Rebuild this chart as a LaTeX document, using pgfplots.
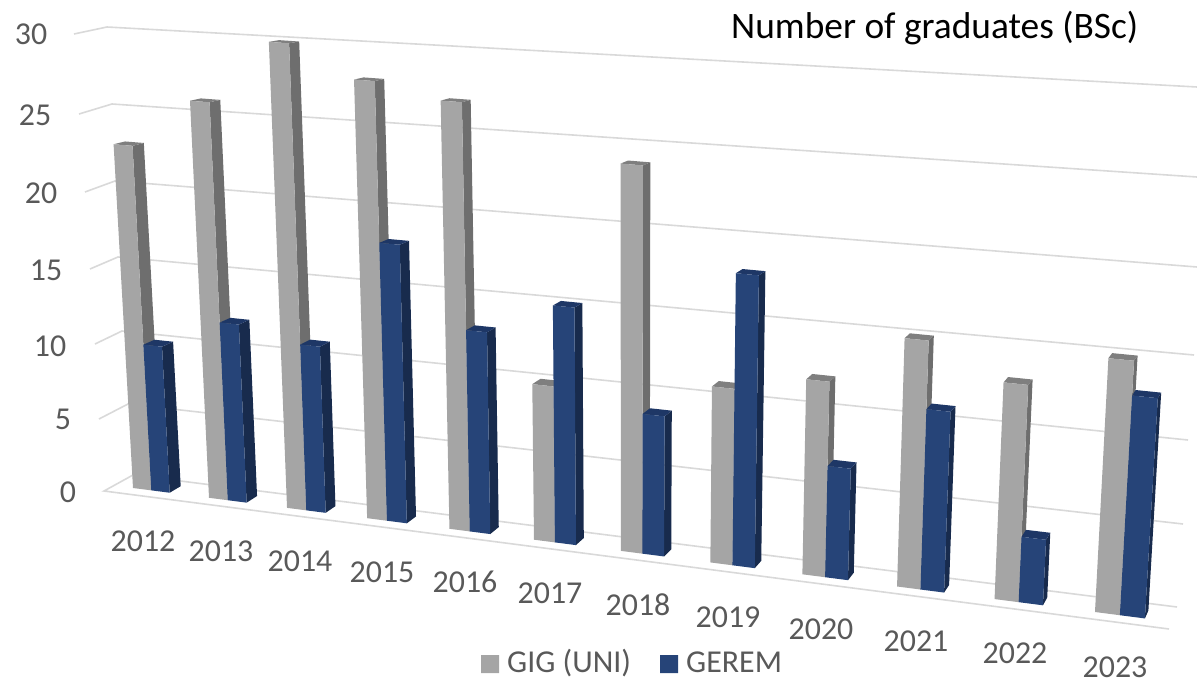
\documentclass[border=0pt]{standalone}
\usepackage{fontspec}
\setmainfont{Carlito}
\usepackage{pgfplots}
\usepackage{pgfplotstable}
\pgfplotsset{compat=1.18}
\definecolor{gf}{HTML}{A5A5A5}\definecolor{gs}{HTML}{6E6E6E}\definecolor{gt}{HTML}{7F7F7F}
\definecolor{bf}{HTML}{264478}\definecolor{bs}{HTML}{182B4D}\definecolor{bt}{HTML}{1E3766}
\definecolor{gridc}{HTML}{D9D9D9}\definecolor{txt}{HTML}{595959}
\pgfplotstableread{
year gig gerem
2012 21.8 8.85
2013 25.2 10.75
2014 29.7 9.9
2015 27.5 16.8
2016 26.5 11.85
2017 9 13.9
2018 23.25 7.95
2019 10 16.95
2020 11 6.15
2021 14 10
2022 12 3.5
2023 14 12
}\datatab
% perspective of the chart: (category position u, value h) -> picture position
\newcommand\proj[3]{%
  \pgfmathsetmacro\tXb{133+75.02*#1/(1-0.01293*#1)}%
  \pgfmathsetmacro\tYb{488+0.1289*(\tXb-133)}%
  \pgfmathsetmacro\tH{16.9*#2/(1-0.01036*#1+0.0033*#2)}%
  \pgfmathsetmacro\tX{\tXb+(\tXb-630)/88*\tH/100}%
  \pgfmathsetmacro\tY{\tYb-\tH}%
  \pgfmathsetmacro\tXk{\tX+12.3-0.0077*\tX}%
  \pgfmathsetmacro\tYk{\tY-1.3-0.0106*\tY}%
  \expandafter\let\csname X#3\endcsname\tX
  \expandafter\let\csname Y#3\endcsname\tY
  \expandafter\let\csname K#3\endcsname\tXk
  \expandafter\let\csname L#3\endcsname\tYk
}
\newcommand\onebar[6]{% u0 u1 h front side top
  \proj{#1}{0}{a}\proj{#2}{0}{b}\proj{#2}{#3}{c}\proj{#1}{#3}{d}%
  \edef\temp{\noexpand\addplot[fill=#5,draw=none] coordinates {(\Xb,\Yb)(\Kb,\Lb)(\Kc,\Lc)(\Xc,\Yc)(\Xb,\Yb)};}\temp
  \edef\temp{\noexpand\addplot[fill=#6,draw=none] coordinates {(\Xd,\Yd)(\Xc,\Yc)(\Kc,\Lc)(\Kd,\Ld)(\Xd,\Yd)};}\temp
  \edef\temp{\noexpand\addplot[fill=#4,draw=none] coordinates {(\Xa,\Ya)(\Xb,\Yb)(\Xc,\Yc)(\Xd,\Yd)(\Xa,\Ya)};}\temp
}
\begin{document}
\begin{tikzpicture}
\useasboundingbox (0,0) rectangle (1197bp,685bp);
\begin{axis}[at={(0,0)},anchor=south west,width=1197bp,height=685bp,scale only axis,
  axis lines=none,xmin=0,xmax=1197,ymin=0,ymax=685,y dir=reverse,clip=false,
  every axis plot/.append style={mark=none}]
\pgfplotsset{gl/.style={draw=gridc,line width=1.6bp,mark=none}}
\addplot[gl] coordinates {(74,34)(107,27)(1197,87)};
\addplot[gl] coordinates {(79,114)(112,104)(1197,177)};
\addplot[gl] coordinates {(85,192)(115,181)(1197,267)};
\addplot[gl] coordinates {(90,269)(118,257)(1194,355)};
\addplot[gl] coordinates {(95,344)(122,331)(1188,440)};
\addplot[gl] coordinates {(99,419)(128,404)(1183,524)};
\addplot[gl] coordinates {(1169,629)(104,491)(133,475)(1177,607)};
\pgfplotsforeachungrouped \i in {0,...,11}{%
  \pgfplotstablegetelem{\i}{gig}\of\datatab \let\vg\pgfplotsretval
  \pgfplotstablegetelem{\i}{gerem}\of\datatab \let\vb\pgfplotsretval
  \pgfmathsetmacro\ua{\i}\pgfmathsetmacro\ub{\i+0.243}\pgfmathsetmacro\uc{\i+0.486}%
  \onebar{\ua}{\ub}{\vg}{gf}{gs}{gt}%
  \onebar{\ub}{\uc}{\vb}{bf}{bs}{bt}%
}
\addplot[fill=gf,draw=none] coordinates {(481,655)(499,655)(499,673)(481,673)(481,655)};
\addplot[fill=bf,draw=none] coordinates {(660,655)(678,655)(678,673)(660,673)(660,655)};
\tikzset{tl/.style={font=\fontsize{32}{32}\selectfont,text=txt,anchor=center,inner sep=0pt}}
\node[tl] at (axis cs:31,34) {30};
\node[tl] at (axis cs:35,115) {25};
\node[tl] at (axis cs:41,193) {20};
\node[tl] at (axis cs:46,270) {15};
\node[tl] at (axis cs:50,346) {10};
\node[tl] at (axis cs:63,419) {5};
\node[tl] at (axis cs:68,492) {0};
\node[tl] at (axis cs:143,541) {2012};
\node[tl] at (axis cs:221,551) {2013};
\node[tl] at (axis cs:300,561) {2014};
\node[tl] at (axis cs:382,572) {2015};
\node[tl] at (axis cs:465,582) {2016};
\node[tl] at (axis cs:550,593) {2017};
\node[tl] at (axis cs:638,605) {2018};
\node[tl] at (axis cs:728,617) {2019};
\node[tl] at (axis cs:821,629) {2020};
\node[tl] at (axis cs:916,641) {2021};
\node[tl] at (axis cs:1015,653) {2022};
\node[tl] at (axis cs:1115,667) {2023};
\node[tl,anchor=base west] at (axis cs:507,672) {GIG (UNI)};
\node[tl,anchor=base west] at (axis cs:686,672) {GEREM};
\node[font=\fontsize{37.5}{37.5}\selectfont,text=black,anchor=base west,inner sep=0pt] at (axis cs:731,39) {Number of graduates (BSc)};
\end{axis}
\end{tikzpicture}
\end{document}
